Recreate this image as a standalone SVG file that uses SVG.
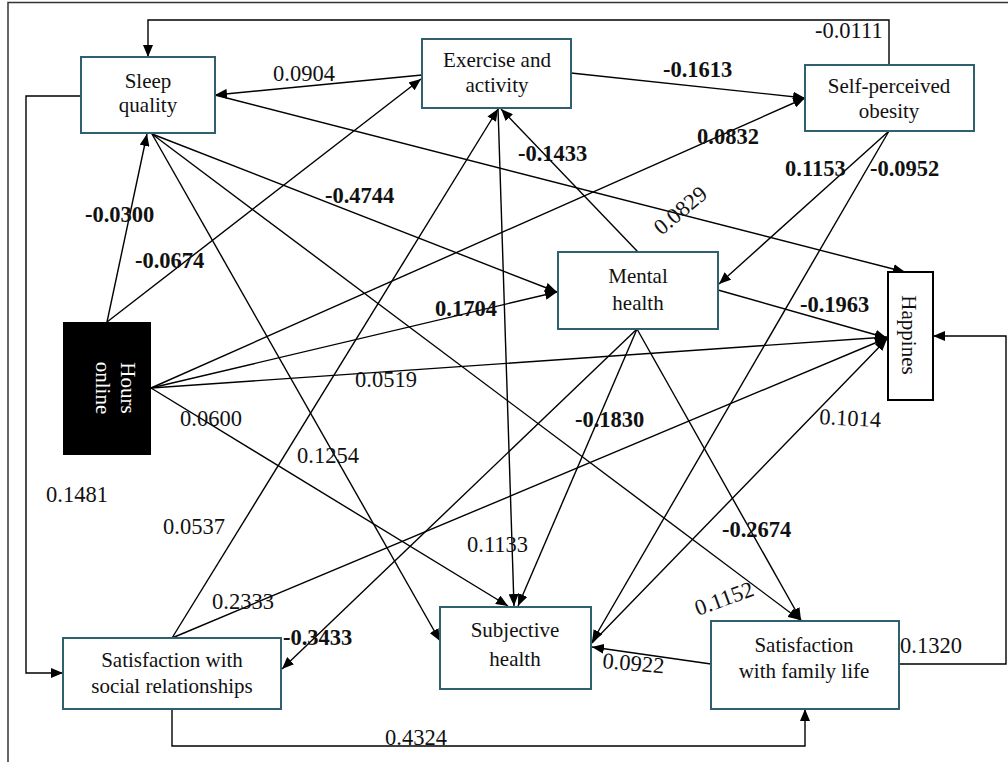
<svg xmlns="http://www.w3.org/2000/svg" width="1008" height="762" viewBox="0 0 1008 762" font-family="Liberation Serif, Times New Roman, serif">
<defs>
<style>
.n{fill:#fff;stroke:#2e6070;stroke-width:2}
.t{font-size:21px;fill:#111;text-anchor:middle}
.w{fill:#fff}
.c{stroke:#000;stroke-width:1.4;fill:none}
.a{marker-end:url(#ah)}
.l{font-size:22.5px;fill:#111}
.b{font-weight:bold}
</style>
<marker id="ah" viewBox="0 0 12 10" refX="12" refY="5" markerWidth="12" markerHeight="10" markerUnits="userSpaceOnUse" orient="auto"><path d="M0,0 L12,5 L0,10 z" fill="#000"/></marker>
</defs>
<rect width="1008" height="762" fill="#fff"/>
<path d="M8,770 V2.5 H1012" fill="none" stroke="#333" stroke-width="1.5"/>

<g id="connectors" font-family="Liberation Serif, Times New Roman, serif">
<polyline class="c a" points="889,65 889,20 148,20 148,57"/>
<polyline class="c a" points="81,96 26,96 26,673 63,673"/>
<polyline class="c a" points="172,709 172,746 805,746 805,709"/>
<polyline class="c a" points="899,664 1006,664 1006,336 933,336"/>
<line class="c a" x1="422" y1="75" x2="215" y2="95"/>
<line class="c a" x1="571" y1="73" x2="805" y2="98"/>
<line class="c a" x1="107" y1="322" x2="147" y2="134"/>
<line class="c a" x1="107" y1="322" x2="421" y2="79"/>
<line class="c a" x1="152" y1="134" x2="557" y2="292"/>
<line class="c a" x1="152" y1="134" x2="440" y2="641"/>
<line class="c a" x1="152" y1="134" x2="800" y2="620"/>
<line class="c a" x1="215" y1="95" x2="905" y2="272"/>
<line class="c a" x1="172" y1="638" x2="498" y2="109"/>
<line class="c a" x1="498" y1="108" x2="514" y2="606"/>
<line class="c a" x1="638" y1="252" x2="501" y2="109"/>
<line class="c a" x1="151" y1="388" x2="805" y2="98"/>
<line class="c a" x1="151" y1="388" x2="557" y2="292"/>
<line class="c a" x1="151" y1="388" x2="887" y2="337"/>
<line class="c a" x1="151" y1="388" x2="508" y2="606"/>
<line class="c a" x1="889" y1="131" x2="719" y2="284"/>
<line class="c a" x1="889" y1="131" x2="592" y2="642"/>
<line class="c a" x1="718" y1="290" x2="887" y2="338"/>
<line class="c a" x1="637" y1="329" x2="282" y2="669"/>
<line class="c a" x1="637" y1="329" x2="518" y2="606"/>
<line class="c a" x1="637" y1="329" x2="801" y2="620"/>
<line class="c a" x1="172" y1="638" x2="887" y2="338"/>
<line class="c a" x1="592" y1="643" x2="887" y2="339"/>
<line class="c a" x1="711" y1="664" x2="592" y2="647"/>

<text class="l" x="815" y="38">-0.0111</text>
<text class="l" x="46" y="502">0.1481</text>
<text class="l" x="385" y="745">0.4324</text>
<text class="l" x="900" y="653">0.1320</text>
<text class="l" x="273" y="81">0.0904</text>
<text class="l b" x="663" y="77">-0.1613</text>
<text class="l b" x="85" y="222">-0.0300</text>
<text class="l b" x="135" y="268">-0.0674</text>
<text class="l b" x="325" y="203">-0.4744</text>
<text class="l" x="297" y="463">0.1254</text>
<text class="l" text-anchor="middle" transform="translate(724,598) rotate(-20)" x="0" y="8">0.1152</text>
<text class="l" text-anchor="middle" transform="translate(680,210) rotate(-40)" x="0" y="8">0.0829</text>
<text class="l" x="163" y="534">0.0537</text>
<text class="l" x="467" y="552">0.1133</text>
<text class="l b" x="518" y="161">-0.1433</text>
<text class="l b" x="697" y="144">0.0832</text>
<text class="l b" x="435" y="316">0.1704</text>
<text class="l" x="355" y="387">0.0519</text>
<text class="l" x="180" y="426">0.0600</text>
<text class="l b" x="785" y="176">0.1153</text>
<text class="l b" x="870" y="176">-0.0952</text>
<text class="l b" x="800" y="312">-0.1963</text>
<text class="l b" x="283" y="645">-0.3433</text>
<text class="l b" x="575" y="427">-0.1830</text>
<text class="l b" x="722" y="537">-0.2674</text>
<text class="l" x="212" y="609">0.2333</text>
<text class="l" transform="rotate(3 819 424)" x="819" y="424">0.1014</text>
<text class="l" transform="rotate(5 602 668)" x="602" y="668">0.0922</text>
</g>

<g id="sleep" font-family="Liberation Serif, Times New Roman, serif">
<rect class="n" x="81" y="57" width="134" height="76"/>
<text class="t" x="148" y="88">Sleep</text>
<text class="t" x="148" y="112">quality</text>
</g>
<g id="exercise" font-family="Liberation Serif, Times New Roman, serif">
<rect class="n" x="422" y="39" width="149" height="69"/>
<text class="t" x="497" y="67">Exercise and</text>
<text class="t" x="497" y="92">activity</text>
</g>
<g id="obesity" font-family="Liberation Serif, Times New Roman, serif">
<rect class="n" x="805" y="65" width="169" height="66"/>
<text class="t" x="889" y="93">Self-perceived</text>
<text class="t" x="889" y="118">obesity</text>
</g>
<g id="hours" font-family="Liberation Serif, Times New Roman, serif">
<rect x="63" y="322" width="88" height="133" fill="#000"/>
<g transform="translate(107,388) rotate(90)">
<text class="t w" x="0" y="-14">Hours</text>
<text class="t w" x="0" y="11">online</text>
</g>
</g>
<g id="mental" font-family="Liberation Serif, Times New Roman, serif">
<rect class="n" x="558" y="252" width="160" height="77"/>
<text class="t" x="638" y="283">Mental</text>
<text class="t" x="638" y="310">health</text>
</g>
<g id="happines" font-family="Liberation Serif, Times New Roman, serif">
<rect x="888" y="272" width="45" height="128" fill="#fff" stroke="#000" stroke-width="2"/>
<text class="t" transform="translate(910,335) rotate(90)" x="0" y="8" font-size="22">Happines</text>
</g>
<g id="social" font-family="Liberation Serif, Times New Roman, serif">
<rect class="n" x="63" y="638" width="218" height="71"/>
<text class="t" x="172" y="667">Satisfaction with</text>
<text class="t" x="172" y="693">social relationships</text>
</g>
<g id="subjective" font-family="Liberation Serif, Times New Roman, serif">
<rect class="n" x="440" y="607" width="151" height="82"/>
<text class="t" x="515" y="637">Subjective</text>
<text class="t" x="515" y="666">health</text>
</g>
<g id="family" font-family="Liberation Serif, Times New Roman, serif">
<rect class="n" x="711" y="621" width="188" height="88"/>
<text class="t" x="804" y="652">Satisfaction</text>
<text class="t" x="804" y="678">with family life</text>
</g>
</svg>
